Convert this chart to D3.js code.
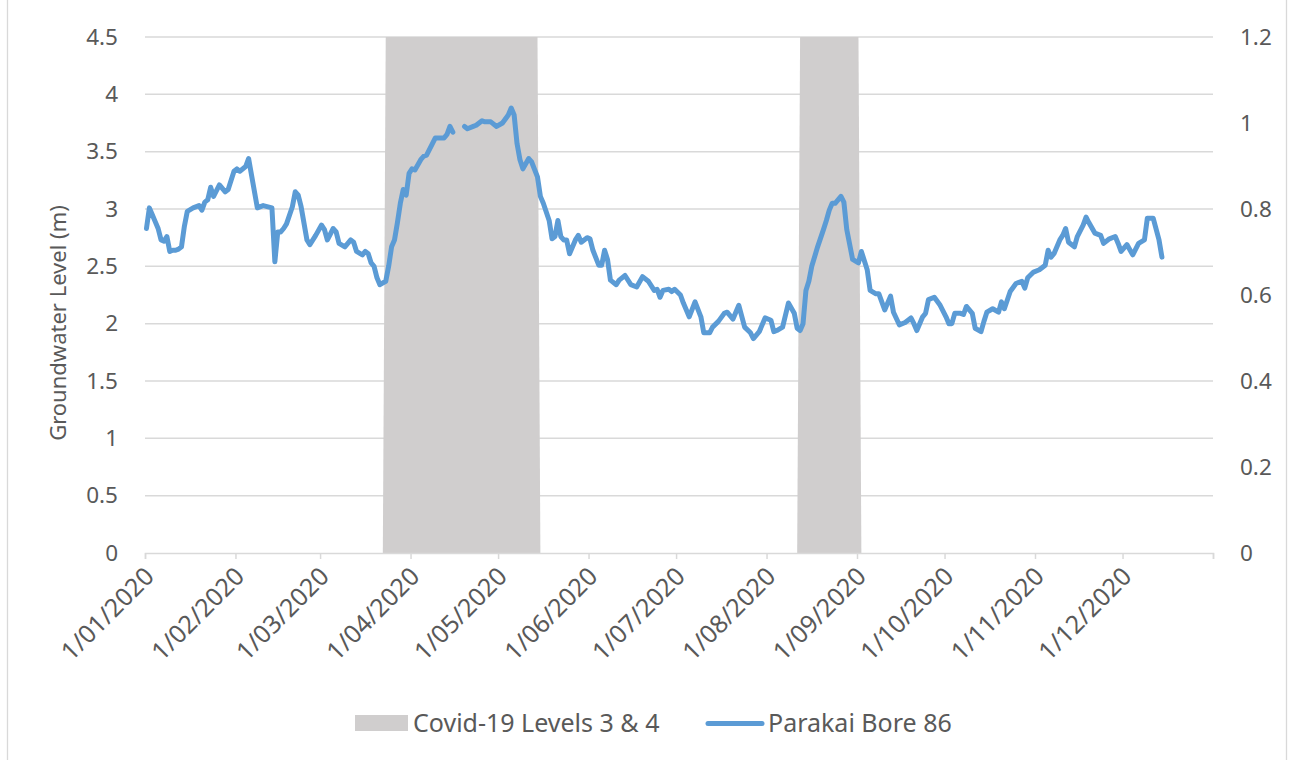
<!DOCTYPE html>
<html><head><meta charset="utf-8">
<script src="https://cdn.jsdelivr.net/npm/d3@7"></script>
<style>
body{margin:0;background:#fff}
text{font-family:"Noto Sans",sans-serif;fill:#595959}
</style>
</head><body>
<svg id="c" width="1293" height="760"></svg>
<script>
// ---- data ----
const levelDates = ["01-01","01-02","01-03","01-04","01-05","01-06","01-07","01-08","01-09","01-10","01-11","01-12","01-13","01-14","01-15","01-17","01-19","01-20","01-21","01-22","01-23","01-24","01-26","01-28","01-29","01-31",
"02-01","02-02","02-04","02-05","02-08","02-10","02-13","02-14","02-15","02-16","02-17","02-18","02-20","02-21","02-22","02-23","02-25","02-26","02-28",
"03-01","03-02","03-03","03-05","03-06","03-07","03-09","03-11","03-12","03-13","03-15","03-16","03-17","03-18","03-19","03-20","03-21","03-23","03-24","03-25","03-26","03-27","03-28","03-29","03-30","03-31",
"04-01","04-02","04-04","04-05","04-06","04-08","04-09","04-12","04-13","04-14","04-15","04-17","04-19","04-20","04-22","04-23","04-25","04-26","04-28","04-30",
"05-02","05-04","05-05","05-06","05-07","05-08","05-09","05-11","05-12","05-14","05-15","05-16","05-18","05-19","05-20","05-21","05-22","05-23","05-24","05-25","05-27","05-28","05-29","05-31",
"06-01","06-02","06-04","06-05","06-06","06-07","06-08","06-10","06-11","06-13","06-15","06-17","06-19","06-21","06-23","06-24","06-25","06-26","06-28","06-29","06-30",
"07-02","07-03","07-05","07-07","07-09","07-10","07-12","07-13","07-15","07-17","07-18","07-20","07-22","07-24","07-26","07-27","07-29","07-31",
"08-02","08-03","08-04","08-06","08-08","08-10","08-11","08-12","08-13","08-14","08-15","08-16","08-18","08-20","08-21","08-22","08-23","08-24","08-26","08-27","08-28","08-30",
"09-01","09-02","09-04","09-05","09-07","09-08","09-10","09-12","09-13","09-15","09-17","09-19","09-20","09-21","09-23","09-24","09-25","09-27","09-29",
"10-01","10-02","10-03","10-04","10-06","10-07","10-08","10-10","10-11","10-13","10-14","10-15","10-17","10-19","10-20","10-21","10-23","10-25","10-27","10-28","10-29","10-31",
"11-02","11-04","11-05","11-06","11-07","11-09","11-10","11-11","11-12","11-14","11-15","11-17","11-18","11-19","11-21","11-23","11-24","11-26","11-28","11-29","11-30",
"12-02","12-04","12-06","12-08","12-09","12-11","12-13","12-14"];
const levelValues = [2.83,3.01,2.95,2.89,2.83,2.73,2.72,2.76,2.63,2.64,2.64,2.65,2.67,2.85,2.98,3.01,3.03,2.99,3.06,3.08,3.19,3.11,3.21,3.15,3.17,3.33,
3.35,3.33,3.37,3.44,3.01,3.03,3.01,2.54,2.80,2.80,2.83,2.87,3.02,3.15,3.12,3.02,2.73,2.69,2.77,
2.86,2.82,2.73,2.83,2.80,2.70,2.67,2.73,2.71,2.63,2.60,2.63,2.61,2.53,2.50,2.40,2.34,2.37,2.50,2.67,2.73,2.88,3.05,3.17,3.12,3.31,
3.35,3.34,3.43,3.46,3.47,3.57,3.62,3.62,3.65,3.72,3.67,null,3.72,3.70,3.72,3.73,3.77,3.76,3.76,3.72,
3.75,3.82,3.88,3.82,3.57,3.43,3.35,3.44,3.41,3.28,3.11,3.05,2.90,2.74,2.76,2.90,2.76,2.73,2.73,2.61,2.73,2.77,2.71,2.75,
2.74,2.64,2.51,2.51,2.64,2.56,2.38,2.34,2.38,2.42,2.34,2.32,2.41,2.37,2.29,2.30,2.23,2.29,2.30,2.28,2.30,
2.25,2.18,2.06,2.19,2.06,1.92,1.92,1.97,2.02,2.09,2.10,2.04,2.16,1.97,1.92,1.87,1.93,2.05,
2.03,1.93,1.94,1.97,2.18,2.09,1.96,1.94,2.00,2.29,2.37,2.50,2.67,2.82,2.90,2.99,3.05,3.05,3.11,3.06,2.82,2.56,
2.53,2.63,2.47,2.29,2.26,2.26,2.12,2.24,2.10,1.99,2.01,2.05,2.00,1.94,2.06,2.09,2.21,2.23,2.16,
2.06,2.00,2.00,2.09,2.09,2.08,2.15,2.09,1.96,1.93,2.02,2.10,2.13,2.10,2.19,2.13,2.28,2.35,2.37,2.31,2.40,2.45,
2.47,2.51,2.64,2.58,2.61,2.73,2.77,2.83,2.71,2.67,2.76,2.86,2.93,2.88,2.79,2.77,2.70,2.74,2.76,2.70,2.63,
2.69,2.60,2.70,2.73,2.92,2.92,2.73,2.58];
const band1Dates = ["2020-03-22","2020-03-23","2020-05-14","2020-05-15"];
const band2Dates = ["2020-08-11","2020-08-12","2020-09-01","2020-09-02"];
const bandValues = [0,1.2,1.2,0];
const tickDates = ["2020-01-01","2020-02-01","2020-03-01","2020-04-01","2020-05-01","2020-06-01","2020-07-01","2020-08-01","2020-09-01","2020-10-01","2020-11-01","2020-12-01","2021-01-01"];
const tickLabels = ["1/01/2020","1/02/2020","1/03/2020","1/04/2020","1/05/2020","1/06/2020","1/07/2020","1/08/2020","1/09/2020","1/10/2020","1/11/2020","1/12/2020",""];
const leftTicks = [0,0.5,1,1.5,2,2.5,3,3.5,4,4.5];
const rightTicks = [0,0.2,0.4,0.6,0.8,1,1.2];
const yTitle = "Groundwater Level (m)";
const legendLabels = ["Covid-19 Levels 3 & 4","Parakai Bore 86"];

// ---- chart ----
const parse = d3.timeParse("%Y-%m-%d");
const svg = d3.select("#c");
const L=145, R=1213, T=37, B=553;
const x = d3.scaleTime().domain([parse("2020-01-01"), parse("2021-01-01")]).range([L,R]);
const y = d3.scaleLinear().domain([0,4.5]).range([B,T]);
const y2 = d3.scaleLinear().domain([0,1.2]).range([B,T]);
const px = d => x(d3.timeHour.offset(d,12));
const grid="#d9d9d9", bandCol="#d0cece", lineCol="#5b9bd5";

// frame
svg.append("line").attr("x1",7.5).attr("x2",7.5).attr("y1",0).attr("y2",760).attr("stroke",grid).attr("stroke-width",1.3);
svg.append("line").attr("x1",1286.5).attr("x2",1286.5).attr("y1",0).attr("y2",760).attr("stroke",grid).attr("stroke-width",1.3);

// gridlines
svg.append("g").selectAll("line").data(leftTicks.filter(v=>v>0)).join("line")
  .attr("x1",L).attr("x2",R).attr("y1",d=>y(d)).attr("y2",d=>y(d))
  .attr("stroke",grid).attr("stroke-width",1.5);

// bands
const area = d3.area().x(d=>px(d.date)).y0(y2(0)).y1(d=>y2(d.v));
[band1Dates, band2Dates].forEach(bd=>{
  const data = bd.map((s,i)=>({date:parse(s), v:bandValues[i]}));
  svg.append("path").datum(data).attr("d",area).attr("fill",bandCol);
});

// x axis
const xa = svg.append("g").attr("transform",`translate(0,${B})`)
  .call(d3.axisBottom(x).tickValues(tickDates.map(parse)).tickFormat((d,i)=>tickLabels[i]).tickSizeOuter(0).tickSize(6));
xa.select(".domain").attr("stroke",grid).attr("stroke-width",1.5);
xa.selectAll(".tick line").attr("stroke",grid).attr("stroke-width",1.5);
xa.selectAll(".tick text").attr("y",0).attr("dy",0).attr("text-anchor","end")
  .attr("transform","translate(10,25) rotate(-45)").style("font-size","25px").style("fill","#595959");

// left axis
const ya = svg.append("g").attr("transform",`translate(${L},0)`)
  .call(d3.axisLeft(y).tickValues(leftTicks).tickSize(0).tickPadding(27).tickFormat(d3.format("")));
ya.select(".domain").remove();
ya.selectAll("text").style("font-size","22.5px").style("fill","#595959");

// right axis
const ra = svg.append("g").attr("transform",`translate(${R},0)`)
  .call(d3.axisRight(y2).tickValues(rightTicks).tickSize(0).tickPadding(27).tickFormat(d3.format("")));
ra.select(".domain").remove();
ra.selectAll("text").style("font-size","22.5px").style("fill","#595959");

// y title
svg.append("text").attr("transform","translate(66,323) rotate(-90)").attr("text-anchor","middle")
  .style("font-size","22px").text(yTitle);

// line
const series = levelDates.map((d,i)=>({date:parse("2020-"+d), v:levelValues[i]}));
const line = d3.line().defined(d=>d.v!=null).x(d=>px(d.date)).y(d=>y(d.v));
svg.append("path").datum(series).attr("d",line).attr("fill","none")
  .attr("stroke",lineCol).attr("stroke-width",5).attr("stroke-linejoin","round").attr("stroke-linecap","round");

// legend
const lg = svg.append("g");
lg.append("rect").attr("x",355).attr("y",715).attr("width",53).attr("height",16).attr("fill",bandCol);
lg.append("text").attr("x",413).attr("y",732).style("font-size","25px").text(legendLabels[0]);
lg.append("line").attr("x1",708).attr("x2",762).attr("y1",723.5).attr("y2",723.5).attr("stroke",lineCol).attr("stroke-width",5).attr("stroke-linecap","round");
lg.append("text").attr("x",768).attr("y",732).style("font-size","25px").text(legendLabels[1]);
</script>
</body></html>
